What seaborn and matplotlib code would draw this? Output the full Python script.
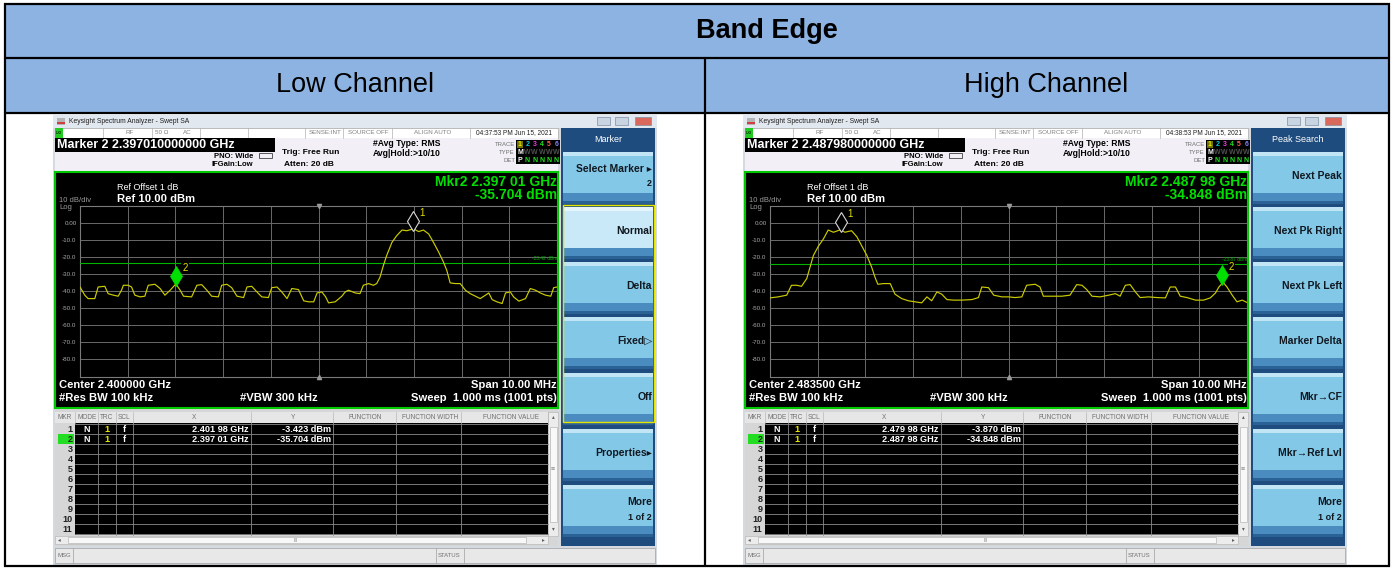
import numpy as np
import pandas as pd
import matplotlib
matplotlib.use("Agg")
import matplotlib.pyplot as plt
from matplotlib.patches import Rectangle
from matplotlib.transforms import offset_copy
import seaborn as sns

# analyzer settings (same on both screens)
span_mhz = 10.0
ref_level = 10.0
ref_offset_db = 1
rbw_khz = 100
vbw_khz = 300
sweep_ms = 1.000
sweep_pts = 1001

low_center_ghz = 2.400000
high_center_ghz = 2.483500

# marker table values
low_mkr_freq = [2.40198, 2.39701]
low_mkr_level = [-3.423, -35.704]
high_mkr_freq = [2.47998, 2.48798]
high_mkr_level = [-3.870, -34.848]

low_display_line = -23.42
high_display_line = -23.87

low_time = "04:37:53 PM Jun 15, 2021"
high_time = "04:38:53 PM Jun 15, 2021"

# traces: MHz from start frequency, dBm
low_off_mhz = [0.00, 0.10, 0.17, 0.31, 0.38, 0.52, 0.59, 0.70, 0.80, 0.87,
               0.91, 1.01, 1.08, 1.15, 1.26, 1.36, 1.43, 1.57, 1.68, 1.78,
               1.89, 2.01, 2.10, 2.17, 2.34, 2.45, 2.55, 2.66, 2.76, 2.90,
               2.97, 3.08, 3.18, 3.29, 3.43, 3.50, 3.60, 3.71, 3.81, 3.95,
               4.02, 4.13, 4.23, 4.34, 4.44, 4.58, 4.69, 4.79, 4.90, 4.97,
               5.07, 5.15, 5.21, 5.35, 5.49, 5.56, 5.63, 5.77, 5.87, 5.94,
               6.05, 6.15, 6.22, 6.29, 6.36, 6.43, 6.54, 6.64, 6.75, 6.85,
               6.99, 7.10, 7.20, 7.31, 7.41, 7.52, 7.62, 7.69, 7.76, 7.87,
               7.97, 8.08, 8.18, 8.29, 8.39, 8.50, 8.57, 8.64, 8.74, 8.85,
               8.92, 9.02, 9.09, 9.20, 9.34, 9.44, 9.55, 9.65, 9.76, 9.87,
               9.93, 10.00]
low_dbm = [-37.5, -42.3, -44.3, -44.3, -37.5, -37.1, -41.4, -42.3, -42.9, -39.4,
           -36.5, -36.5, -37.5, -42.3, -43.3, -42.9, -36.5, -35.9, -38.4, -42.3,
           -39.4, -35.7, -39.4, -42.9, -43.3, -36.5, -36.1, -39.4, -42.9, -43.3,
           -36.5, -35.9, -37.9, -42.9, -43.7, -37.5, -37.1, -40.4, -43.3, -43.7,
           -37.9, -37.5, -40.4, -44.3, -38.4, -39.0, -45.6, -46.2, -46.2, -41.0,
           -40.4, -43.3, -46.8, -46.2, -42.9, -40.4, -39.4, -41.0, -41.4, -36.5,
           -35.5, -36.5, -35.5, -31.7, -24.9, -19.0, -11.3, -7.4, -4.1, -4.5,
           -3.4, -5.0, -4.1, -6.4, -11.3, -17.1, -22.9, -27.8, -35.1, -35.5,
           -35.5, -39.4, -41.4, -42.9, -44.3, -42.3, -41.0, -44.9, -46.2, -47.2,
           -41.0, -40.4, -43.3, -45.8, -44.3, -38.4, -39.4, -41.0, -42.3, -42.9,
           -37.9, -37.5]

high_off_mhz = [0.00, 0.17, 0.35, 0.45, 0.56, 0.66, 0.77, 0.84, 0.91, 1.01,
                1.12, 1.22, 1.33, 1.48, 1.57, 1.71, 1.82, 1.92, 2.03, 2.13,
                2.20, 2.26, 2.38, 2.52, 2.62, 2.76, 2.90, 3.04, 3.18, 3.29,
                3.39, 3.50, 3.60, 3.71, 3.85, 4.02, 4.23, 4.37, 4.44, 4.58,
                4.69, 4.86, 5.00, 5.14, 5.28, 5.38, 5.56, 5.66, 5.73, 5.90,
                6.12, 6.29, 6.43, 6.54, 6.64, 6.75, 6.92, 7.10, 7.24, 7.34,
                7.45, 7.55, 7.66, 7.76, 7.94, 8.11, 8.29, 8.39, 8.50, 8.60,
                8.74, 8.92, 9.09, 9.23, 9.34, 9.41, 9.50, 9.58, 9.69, 9.79,
                9.90, 10.00]
high_dbm = [-43.9, -43.3, -42.3, -36.5, -36.5, -37.1, -32.6, -25.8, -19.0, -13.8,
            -9.3, -4.1, -5.4, -3.9, -5.4, -4.5, -8.0, -13.2, -19.0, -25.8,
            -31.7, -35.9, -35.5, -35.5, -41.7, -44.3, -45.6, -46.2, -46.8, -43.3,
            -45.6, -40.4, -41.7, -44.9, -45.2, -45.2, -44.9, -43.7, -37.5, -37.9,
            -42.3, -43.3, -43.3, -43.7, -43.3, -36.5, -35.9, -37.5, -42.9, -42.9,
            -42.9, -42.3, -36.1, -36.5, -39.0, -42.9, -43.3, -42.3, -41.4, -42.9,
            -36.5, -36.1, -40.4, -43.7, -43.3, -43.7, -43.9, -37.5, -37.5, -42.9,
            -43.7, -45.2, -45.2, -43.9, -41.0, -37.5, -34.8, -37.5, -42.3, -46.2,
            -45.2, -46.6]

low_keys = ["Select Marker \u25b8", "Normal", "Delta", "Fixed\u25b7", "Off", "Properties\u25b8", "More"]
low_keys_sub = ["2", "", "", "", "", "", "1 of 2"]
high_keys = ["Next Peak", "Next Pk Right", "Next Pk Left", "Marker Delta",
             "Mkr\u2192CF", "Mkr\u2192Ref Lvl", "More"]
high_keys_sub = ["", "", "", "", "", "", "1 of 2"]

sns.set_style("white")
plt.rcParams['font.family'] = ['Liberation Sans', 'DejaVu Sans']

W, H = 1393, 568
fig = plt.figure(figsize=(W / 100, H / 100), dpi=100)
bg = fig.add_axes([0, 0, 1, 1])
bg.set_xlim(0, W)
bg.set_ylim(H, 0)
bg.axis('off')


def box(x, y, w, h, fc, ec='none', lw=0, z=1):
    bg.add_patch(Rectangle((x, y), w, h, facecolor=fc, edgecolor=ec, linewidth=lw, zorder=z))


def txt(x, y, s, size, color='black', ha='left', bold=False, z=5, **kw):
    bg.text(x, y, s, fontsize=size, color=color, ha=ha, va='center',
            fontweight='bold' if bold else 'normal', zorder=z, **kw)


def ghz_str(f):
    s = "{:.5f}".format(f)
    return s[:5] + " " + s[5:]


# ---- outer table ----
hdr = '#8DB3E2'
box(5, 5, 1383, 52, hdr)
box(5, 58, 1383, 54, hdr)
bg.add_patch(Rectangle((4.5, 4), 1384, 562, fill=False, edgecolor='black', linewidth=1.6, zorder=3))
bg.plot([4.5, 1388.5], [57.5, 57.5], color='black', lw=1.6, zorder=3)
bg.plot([4.5, 1388.5], [112.5, 112.5], color='black', lw=1.6, zorder=3)
bg.plot([704.5, 704.5], [57.5, 566], color='black', lw=1.6, zorder=3)
txt(696, 31, "Band Edge", 19.5, bold=True)
txt(355, 85, "Low Channel", 19.5, ha='center')
txt(1046, 85, "High Channel", 19.5, ha='center')


def draw_screen(x0, center, mkr_f, mkr_l, dline, off_mhz, dbm, tstamp, title, keys, subs, selected):
    # window frame
    box(x0 - 2, 115, 604, 450, '#d5dae0')
    box(x0 - 2, 115, 604, 13, '#e2e8ef')
    box(x0 + 2, 118, 8, 7, '#b4b4b4')
    box(x0 + 2, 122, 8, 1.5, '#d04040', z=2)
    txt(x0 + 14, 121.5, "Keysight Spectrum Analyzer - Swept SA", 4.9, color='#202020')
    for bx, col in [(542, '#c9d4e2'), (560, '#c9d4e2'), (580, '#d9695c')]:
        box(x0 + bx, 117, 16 if bx == 580 else 13, 8, col, ec='#7d8fa4', lw=0.5, z=2)

    # status row
    box(x0, 128, 503, 10, 'white', ec='#a8a8a8', lw=0.5)
    box(x0, 128, 8, 10, '#22cc22', z=2)
    txt(x0 + 4, 133, "LXI", 3, ha='center', z=6)
    for sx in [48, 97, 145, 193, 250, 288, 337, 415]:
        bg.plot([x0 + sx, x0 + sx], [128, 138], color='#b0b0b0', lw=0.5, zorder=2)
    for sx, s in [(75, "RF"), (107, "50 \u03a9"), (132, "AC"), (270, "SENSE:INT"),
                  (313, "SOURCE OFF"), (378, "ALIGN AUTO")]:
        txt(x0 + sx, 133, s, 4.5, color='#808080', ha='center')
    txt(x0 + 459, 133, tstamp, 4.7, color='#202020', ha='center')

    # info area
    box(x0, 138, 503, 33, '#f2f0f6')
    box(x0, 138, 220, 14, 'black', z=2)
    txt(x0 + 2, 145, "Marker 2 {:.12f} GHz".format(mkr_f[1]), 9, color='white', bold=True)
    txt(x0 + 159, 157, "PNO: Wide", 5.5, bold=True)
    txt(x0 + 157, 165, "IFGain:Low", 5.5, bold=True)
    bg.add_patch(Rectangle((x0 + 204, 153), 13, 5, fill=False, edgecolor='#404040', linewidth=0.6, zorder=3))
    txt(x0 + 227, 153, "Trig: Free Run", 6, bold=True)
    txt(x0 + 229, 164, "Atten: 20 dB", 6, bold=True)
    txt(x0 + 318, 144, "#Avg Type: RMS", 6.2, bold=True)
    txt(x0 + 318, 153, "Avg|Hold:>10/10", 6.2, bold=True)
    for ty, s in [(144, "TRACE"), (152, "TYPE"), (160, "DET")]:
        txt(x0 + 460, ty, s, 4.3, color='#707070', ha='right')
    box(x0 + 461, 140, 44, 24, 'black', z=2)
    tcols = ['#e8e800', '#00d0e0', '#e040e0', '#20e020', '#ff6060', '#8080ff']
    for k, c in enumerate(tcols):
        tx = x0 + 465 + 7.3 * k
        if k == 0:
            box(tx - 3, 140.5, 6, 7, '#707000', z=3)
        txt(tx, 144, str(k + 1), 5, color=c, ha='center', bold=True, z=6)
        txt(tx, 152, "M" if k == 0 else "W", 5, color='white' if k == 0 else '#505050', ha='center', bold=True, z=6)
        txt(tx, 160, "P" if k == 0 else "N", 5, color='white' if k == 0 else '#20e020', ha='center', bold=True, z=6)

    # plot panel
    box(x0, 172, 503, 236, 'black', ec='#00c800', lw=1.5, z=2)
    txt(x0 + 62, 187, "Ref Offset {} dB".format(ref_offset_db), 6.5, color='white')
    txt(x0 + 62, 198.5, "Ref {:.2f} dBm".format(ref_level), 8.1, color='white', bold=True)
    txt(x0 + 4, 200, "10 dB/div", 5.5, color='#9a9a9a')
    txt(x0 + 4, 207.5, "Log", 5.5, color='#9a9a9a')
    txt(x0 + 502, 182, "Mkr2 " + ghz_str(mkr_f[1]) + " GHz", 10, color='#00e000', ha='right', bold=True)
    txt(x0 + 502, 195, "{:.3f} dBm".format(mkr_l[1]), 10, color='#00e000', ha='right', bold=True)
    txt(x0 + 4, 385, "Center {:.6f} GHz".format(center), 8.1, color='white', bold=True)
    txt(x0 + 4, 398, "#Res BW {} kHz".format(rbw_khz), 8.1, color='white', bold=True)
    txt(x0 + 185, 398, "#VBW {} kHz".format(vbw_khz), 8.1, color='white', bold=True)
    txt(x0 + 502, 385, "Span {:.2f} MHz".format(span_mhz), 8.1, color='white', ha='right', bold=True)
    txt(x0 + 502, 398, "Sweep  {:.3f} ms ({} pts)".format(sweep_ms, sweep_pts), 8.1, color='white', ha='right', bold=True)

    start = center - span_mhz / 2000.0
    stop = center + span_mhz / 2000.0
    ax = fig.add_axes([(x0 + 25) / W, 1 - 376.5 / H, 477 / W, 170.5 / H])
    ax.set_facecolor('black')
    ax.set_xlim(start, stop)
    ax.set_ylim(ref_level - 100, ref_level)
    ax.set_xticks([start + span_mhz / 1000.0 * i / 10 for i in range(11)])
    ax.set_xticklabels([])
    yt = [ref_level - 10 * i for i in range(11)]
    ax.set_yticks(yt)
    ax.set_yticklabels(["" if (v == ref_level or v == ref_level - 100) else
                        ("{:.2f}".format(v) if v == 0 else "{:.1f}".format(v)) for v in yt])
    ax.tick_params(length=0, labelsize=4.5, labelcolor='#a8a8a8', pad=2.5)
    ax.grid(True, color='#6a6a6a', lw=0.7)
    for sp in ax.spines.values():
        sp.set_color('#7a7a7a')
        sp.set_linewidth(0.8)

    df = pd.DataFrame({'freq': start + np.array(off_mhz) / 1000.0, 'level': dbm})
    sns.lineplot(data=df, x='freq', y='level', ax=ax, color='#cccc00', lw=0.85, legend=False, zorder=4)
    ax.set_xlabel('')
    ax.set_ylabel('')
    ax.axhline(dline, color='#00b400', lw=0.8, zorder=3)
    ax.text(stop, dline + 1.2, "{:.2f} dBm".format(dline), ha='right', va='bottom', fontsize=3.5, color='#00b400')
    ax.plot([center], [ref_level], marker='v', color='#9a9a9a', ms=3, clip_on=False, zorder=5)
    ax.plot([center], [ref_level - 100], marker='^', color='#9a9a9a', ms=3, clip_on=False, zorder=5)

    up = offset_copy(ax.transData, fig=fig, x=0, y=7.5, units='dots')
    for i, (f, l) in enumerate(zip(mkr_f, mkr_l)):
        if i == 0:
            ax.plot([f], [l], marker='d', ms=10.5, mfc='black', mec='#d8d8d8', mew=0.8,
                    transform=up, zorder=7, linestyle='none')
        else:
            ax.plot([f], [l], marker='d', ms=10.5, mfc='#00e000', mec='#00e000', mew=0.5,
                    transform=up, zorder=7, linestyle='none')
        ax.annotate(str(i + 1), xy=(f, l), xycoords=up, xytext=(6.5, 6), textcoords='offset points',
                    color='#e0e000', fontsize=7, ha='center', va='center', zorder=5,
                    bbox=dict(boxstyle='square,pad=0.1', fc='black', ec='none'))

    # marker table
    box(x0, 408, 503, 138, '#d6d6d6')
    box(x0, 412, 493, 11, '#e6e6e6', z=2)
    cols = [20, 43, 61, 78, 196, 278, 341, 406, 493]
    for cx in cols:
        bg.plot([x0 + cx, x0 + cx], [412, 423], color='#b8b8b8', lw=0.5, zorder=3)
    for cx, s in [(10, "MKR"), (32, "MODE"), (52, "TRC"), (69, "SCL"), (139, "X"), (238, "Y"),
                  (310, "FUNCTION"), (375, "FUNCTION WIDTH"), (456, "FUNCTION VALUE")]:
        txt(x0 + cx, 417.5, s, 4.7, color='#707070', ha='center')
    box(x0 + 20, 423, 473, 112, 'black', z=2)
    for k in range(12):
        bg.plot([x0 + 20, x0 + 493], [424 + 10 * k, 424 + 10 * k], color='#8a8a8a', lw=0.6, zorder=3)
    for cx in cols[1:-1]:
        bg.plot([x0 + cx, x0 + cx], [423, 535], color='#8a8a8a', lw=0.6, zorder=3)
    box(x0 + 3, 434, 16, 10, '#22dd22', z=2)
    for r in range(11):
        txt(x0 + 17.5, 429 + 10 * r, str(r + 1), 6.5, color='#202020', ha='right', bold=True, z=6)
    for r, (f, l) in enumerate(zip(mkr_f, mkr_l)):
        ry = 429 + 10 * r
        txt(x0 + 32, ry, "N", 6.5, color='white', ha='center', bold=True, z=6)
        txt(x0 + 52, ry, "1", 6.5, color='#e8e800', ha='center', bold=True, z=6)
        txt(x0 + 69, ry, "f", 6.5, color='white', ha='center', bold=True, z=6)
        txt(x0 + 193, ry, ghz_str(f) + " GHz", 6.6, color='white', ha='right', bold=True, z=6)
        txt(x0 + 276, ry, "{:.3f} dBm".format(l), 6.6, color='white', ha='right', bold=True, z=6)
    # scrollbars
    box(x0 + 493, 412, 10, 124, '#ececec', ec='#b0b0b0', lw=0.4, z=2)
    box(x0 + 494.5, 427, 7, 95, '#f8f8f8', ec='#a8a8a8', lw=0.4, z=3)
    txt(x0 + 498, 417, "\u25b4", 4, color='#606060', ha='center')
    txt(x0 + 498, 529, "\u25be", 4, color='#606060', ha='center')
    txt(x0 + 498, 469, "\u2261", 5, color='#808080', ha='center')
    box(x0, 536, 493, 8, '#ececec', ec='#b0b0b0', lw=0.4, z=2)
    box(x0 + 13, 537, 458, 6, '#f8f8f8', ec='#a8a8a8', lw=0.4, z=3)
    txt(x0 + 4, 540, "\u25c2", 4, color='#606060', ha='center')
    txt(x0 + 488, 540, "\u25b8", 4, color='#606060', ha='center')
    txt(x0 + 241, 540, "III", 3.5, color='#808080', ha='center')

    # status bar
    box(x0, 548, 600, 15, '#e8e8e8', ec='#a0a0a0', lw=0.5, z=2)
    for sx in [18, 381, 409]:
        bg.plot([x0 + sx, x0 + sx], [548, 563], color='#a0a0a0', lw=0.5, zorder=3)
    txt(x0 + 2, 555.5, "MSG", 4.3, color='#707070')
    txt(x0 + 383, 555.5, "STATUS", 4.3, color='#707070')

    # softkey panel
    box(x0 + 506, 128, 94, 418, '#1f4c7e', z=2)
    txt(x0 + 553, 140, title, 6.5, color='white', ha='center', z=6)
    tops = [152, 207, 262, 317, 373, 429, 485]
    for i, t in enumerate(tops):
        light = (i == selected)
        box(x0 + 508, t, 90, 52, '#c9e8f8' if light else '#84c8e8', z=3)
        box(x0 + 508, t, 90, 4, '#e6f5fc' if light else '#c2e5f5', z=3)
        box(x0 + 508, t + 41, 90, 8, '#4a8cc0', z=3)
        box(x0 + 508, t + 49, 90, 3, '#2a6296', z=3)
        if subs[i]:
            txt(x0 + 597, t + 17, keys[i], 7.5, ha='right', bold=True, color='#101820', z=6)
            txt(x0 + 597, t + 32, subs[i], 6.5, ha='right', bold=True, color='#101820', z=6)
        else:
            txt(x0 + 597, t + 24, keys[i], 7.5, ha='right', bold=True, color='#101820', z=6)
    if selected is not None:
        bg.add_patch(Rectangle((x0 + 507.5, 205), 91, 217, fill=False, edgecolor='#e4e400',
                               linewidth=1.0, zorder=4))


draw_screen(55, low_center_ghz, low_mkr_freq, low_mkr_level, low_display_line,
            low_off_mhz, low_dbm, low_time, "Marker", low_keys, low_keys_sub, 1)
draw_screen(745, high_center_ghz, high_mkr_freq, high_mkr_level, high_display_line,
            high_off_mhz, high_dbm, high_time, "Peak Search", high_keys, high_keys_sub, None)

fig.savefig("out.png", dpi=100)
